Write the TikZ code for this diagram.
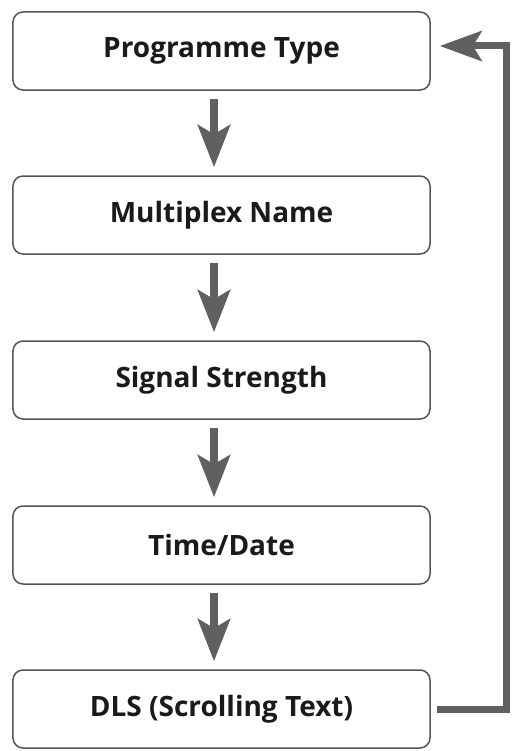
\documentclass[tikz,border=0pt]{standalone}
\usepackage{fontspec}
\setmainfont{Open Sans}
\usepackage{xcolor}
\usepackage{tikz}
\usetikzlibrary{arrows.meta}
\definecolor{boxgray}{RGB}{85, 85, 85}
\definecolor{arrowgray}{RGB}{96, 96, 96}
\definecolor{textblack}{RGB}{26, 26, 26}

\begin{document}
\begin{tikzpicture}[x=1bp, y=-1bp,
  menubox/.style={draw=boxgray, line width=1.5bp, rounded corners=10bp, fill=white,
    minimum width=417bp, minimum height=78bp, inner sep=0pt,
    text=textblack, font=\fontsize{28bp}{32bp}\selectfont\bfseries},
  downarrow/.style={draw=arrowgray, line width=8bp,
    -{Stealth[length=42bp, width=32bp, inset=9bp]}, shorten <=8bp, shorten >=8bp},
  backarrow/.style={draw=arrowgray, line width=7bp,
    -{Stealth[length=42bp, width=30bp, inset=9bp]}, shorten <=6bp, shorten >=9bp}]
\useasboundingbox (0,0) rectangle (517,751);

% Menu items
\node[menubox] (prog) at (221.5,51) {Programme Type};
\node[menubox] (mux) at (221.5,215) {Multiplex Name};
\node[menubox] (signal) at (221.5,380) {Signal Strength};
\node[menubox] (clock) at (221.5,545) {Time/Date};
\node[menubox] (dls) at (221.5,709) {DLS (Scrolling Text)};

% Step down
\foreach \a/\b in {prog/mux, mux/signal, signal/clock, clock/dls} {
  \draw[downarrow] ([xshift=-7.5bp]\a.south) -- ([xshift=-7.5bp]\b.north);
}

% Back to the top
\draw[backarrow] (dls.east) -- ++(75.5,0) |- ([yshift=5bp]prog.east);
\end{tikzpicture}
\end{document}
